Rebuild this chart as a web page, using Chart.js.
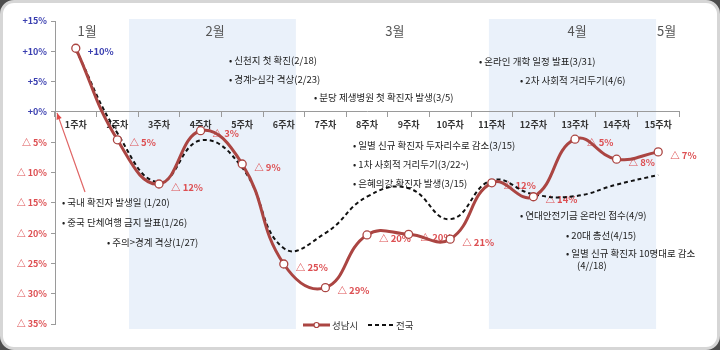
<!DOCTYPE html>
<html><head><meta charset="utf-8">
<script src="https://cdn.jsdelivr.net/npm/chart.js@4/dist/chart.umd.min.js"></script>
<style>
html,body{margin:0;padding:0;background:#4d4d4d;width:720px;height:350px;overflow:hidden}
#card{position:absolute;left:0;top:0;width:720px;height:350px;box-sizing:border-box;border:3px solid #d6d6d6;border-radius:14px;background:#fff}
#wrap{position:absolute;left:0;top:0;width:720px;height:350px}
</style></head><body><div id="card"></div><div id="wrap"><canvas id="c" width="720" height="350"></canvas></div>
<script>
const weeks = ['1주차','2주차','3주차','4주차','5주차','6주차','7주차','8주차','9주차','10주차','11주차','12주차','13주차','14주차','15주차'];
const seongnam = [10.5, -4.6, -11.9, -3.1, -8.6, -25.1, -29.0, -20.3, -20.2, -21.0, -11.7, -14.0, -4.5, -7.8, -6.6];
const national = [10.3, -3.5, -11.6, -4.7, -9.2, -22.5, -20.0, -14.0, -12.6, -17.7, -11.3, -13.6, -13.9, -12.0, -10.4];
const seongnamLabels = ['+10%','△ 5%','△ 12%','△ 3%','△ 9%','△ 25%','△ 29%','△ 20%','△ 20%','△ 21%','△ 12%','△ 14%','△ 5%','△ 8%','△ 7%'];
const months = ['1월','2월','3월','4월','5월'];
const monthPos = [0.27, 3.35, 7.67, 12.05, 14.2];
const shadedMonths = [[1.28, 5.29], [9.93, 13.95]];
const yTicks = {min: -35, max: 15, step: 5};
const events = [
  ['• 신천지 첫 확진(2/18)', 229, 60],
  ['• 경계>심각 격상(2/23)', 229, 79],
  ['• 분당 제생병원 첫 확진자 발생(3/5)', 314, 97],
  ['• 온라인 개학 일정 발표(3/31)', 479, 61],
  ['• 2차 사회적 거리두기(4/6)', 520, 80],
  ['• 일별 신규 확진자 두자리수로 감소(3/15)', 353, 145],
  ['• 1차 사회적 거리두기(3/22~)', 353, 164],
  ['• 은혜의강 확진자 발생(3/15)', 353, 183],
  ['• 국내 확진자 발생일 (1/20)', 62, 202],
  ['• 중국 단체여행 금지 발표(1/26)', 62, 222],
  ['• 주의>경계 격상(1/27)', 107, 242],
  ['• 연대안전기금 온라인 접수(4/9)', 520, 215],
  ['• 20대 총선(4/15)', 566, 235],
  ['• 일별 신규 확진자 10명대로 감소', 566, 253],
  ['(4//18)', 577, 265]
];
const RED_LINE = '#ab4542';
const RED_TXT = '#dd4f52';
const BLUE_TXT = '#3a3fb0';
const KFONT = "'Noto Sans CJK KR', 'Noto Sans', sans-serif";

const decor = {
  id: 'decor',
  beforeDraw(chart) {
    const {ctx, chartArea, scales: {x}} = chart;
    ctx.save();
    ctx.fillStyle = '#eaf1fa';
    shadedMonths.forEach(([a, b]) => {
      const x0 = x.getPixelForValue(a), x1 = x.getPixelForValue(b);
      ctx.fillRect(x0, chartArea.top - 2, x1 - x0, chartArea.bottom - chartArea.top + 7);
    });
    ctx.restore();
  },
  beforeDatasetsDraw(chart) {
    const {ctx, scales: {x, y}} = chart;
    ctx.save();
    // month labels
    ctx.fillStyle = '#555';
    ctx.font = '13px ' + KFONT;
    ctx.textAlign = 'center';
    ctx.textBaseline = 'middle';
    months.forEach((m, i) => ctx.fillText(m, x.getPixelForValue(monthPos[i]), 31));
    // events
    ctx.fillStyle = '#222';
    ctx.font = '9.5px ' + KFONT;
    ctx.textAlign = 'left';
    events.forEach(([t, px, py]) => ctx.fillText(t, px, py));
    // arrow
    const ax0 = 85, ay0 = 192, ax1 = x.left + 2, ay1 = y.getPixelForValue(0) + 1;
    ctx.strokeStyle = '#e06464';
    ctx.fillStyle = '#e04848';
    ctx.lineWidth = 1.2;
    ctx.beginPath(); ctx.moveTo(ax0, ay0); ctx.lineTo(ax1, ay1); ctx.stroke();
    const ang = Math.atan2(ay1 - ay0, ax1 - ax0);
    ctx.beginPath();
    ctx.moveTo(ax1, ay1);
    ctx.lineTo(ax1 - 7 * Math.cos(ang - 0.4), ay1 - 7 * Math.sin(ang - 0.4));
    ctx.lineTo(ax1 - 7 * Math.cos(ang + 0.4), ay1 - 7 * Math.sin(ang + 0.4));
    ctx.closePath(); ctx.fill();
    // data labels
    const meta = chart.getDatasetMeta(0);
    ctx.font = 'bold 9.5px ' + KFONT;
    ctx.textBaseline = 'middle';
    meta.data.forEach((pt, i) => {
      ctx.fillStyle = seongnam[i] >= 0 ? BLUE_TXT : RED_TXT;
      ctx.fillText(seongnamLabels[i], pt.x + 12, pt.y + 3);
    });
    ctx.restore();
  },
  afterDraw(chart) {
    const {ctx} = chart;
    ctx.save();
    const ly = 325;
    ctx.strokeStyle = RED_LINE; ctx.lineWidth = 3;
    ctx.beginPath(); ctx.moveTo(303, ly); ctx.lineTo(330, ly); ctx.stroke();
    ctx.fillStyle = '#fff'; ctx.lineWidth = 1.2;
    ctx.beginPath(); ctx.arc(316.5, ly, 2.5, 0, Math.PI * 2); ctx.fill(); ctx.stroke();
    ctx.strokeStyle = '#111'; ctx.lineWidth = 2; ctx.setLineDash([4, 3]);
    ctx.beginPath(); ctx.moveTo(368, ly); ctx.lineTo(394, ly); ctx.stroke();
    ctx.setLineDash([]);
    ctx.fillStyle = '#333'; ctx.font = '9.5px ' + KFONT;
    ctx.textAlign = 'left'; ctx.textBaseline = 'middle';
    ctx.fillText('성남시', 332, ly);
    ctx.fillText('전국', 396, ly);
    ctx.restore();
  }
};

new Chart(document.getElementById('c'), {
  type: 'line',
  data: {
    labels: weeks,
    datasets: [
      {label: '성남시', data: seongnam, borderColor: RED_LINE, borderWidth: 3, tension: 0.45,
       pointRadius: 4, pointBackgroundColor: '#fff', pointBorderColor: RED_LINE, pointBorderWidth: 1.3},
      {label: '전국', data: national, borderColor: '#111', borderWidth: 2, borderDash: [4, 3], tension: 0.45,
       pointRadius: 0}
    ]
  },
  options: {
    responsive: false,
    animation: false,
    layout: {padding: {left: 0, right: 41, top: 21, bottom: 26}},
    plugins: {legend: {display: false}, tooltip: {enabled: false}},
    scales: {
      x: {
        type: 'category',
        position: {y: 0},
        offset: true,
        grid: {offset: true, drawOnChartArea: false, drawTicks: true, tickLength: 5, color: '#9a9a9a'},
        border: {display: true, color: '#9a9a9a', width: 1},
        ticks: {font: {size: 9, weight: 'bold', family: KFONT}, color: '#333', padding: 2, maxRotation: 0, autoSkip: false}
      },
      y: {
        min: yTicks.min, max: yTicks.max,
        afterFit(s) { s.width = 55; },
        grid: {drawOnChartArea: false, drawTicks: true, tickLength: 4, color: '#9a9a9a'},
        border: {display: true, color: '#9a9a9a', width: 1},
        ticks: {
          stepSize: yTicks.step, autoSkip: false, padding: 4,
          font: {size: 9, weight: 'bold', family: KFONT},
          color: c => c.tick.value >= 0 ? BLUE_TXT : RED_TXT,
          callback: v => v >= 0 ? '+' + v + '%' : '△ ' + (-v) + '%'
        }
      }
    }
  },
  plugins: [decor]
});
</script></body></html>
